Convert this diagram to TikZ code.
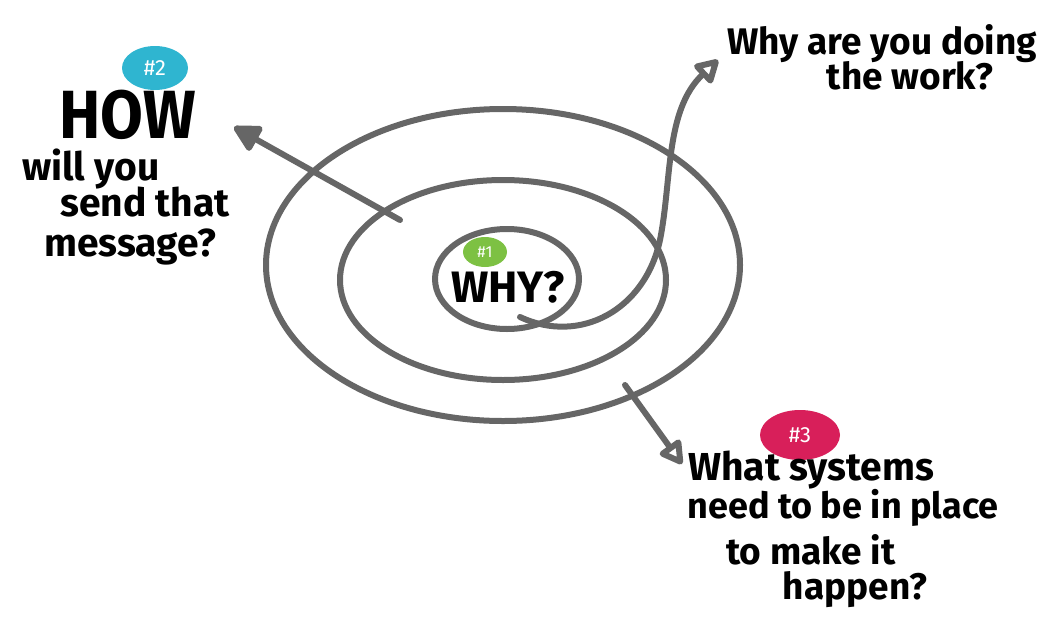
\documentclass[tikz,border=0pt]{standalone}
\usepackage{fontspec}
\setmainfont{Fira Sans}
\usetikzlibrary{arrows.meta,calc,shapes.geometric}
\definecolor{lineg}{HTML}{666666}
\definecolor{badgeblue}{HTML}{2FB5D0}
\definecolor{badgegreen}{HTML}{7DC143}
\definecolor{badgered}{HTML}{D81F5A}
\tikzset{
  ring/.style={draw=lineg,line width=6pt,line cap=round},
  arr/.style={draw=lineg,line width=6pt,line cap=round},
  headfill/.style={-{Triangle[length=30pt,width=30pt,round]}},
  headopen/.style={-{Triangle[open,length=26pt,width=28pt,round]}},
  badge/.style={ellipse,inner sep=0pt,text=white,font=\fontsize{22}{22}\selectfont},
  hand/.style={text=black,font=\bfseries\fontsize{#1}{#1}\selectfont,inner sep=0pt,align=center},
  hand/.default=34
}
\begin{document}
\begin{tikzpicture}[x=1pt,y=-1pt]
\useasboundingbox (0,0) rectangle (1054,621);
% rings
\draw[ring] (503,265) ellipse [x radius=237,y radius=156];
\draw[ring] (503,280) ellipse [x radius=163,y radius=100];
\draw[ring] (507,279) ellipse [x radius=72,y radius=50];
% coordinates
\coordinate (hs) at (400,220);
\coordinate (he) at (234,127);
\coordinate (ws) at (520,317);
\coordinate (we) at (718,60);
\coordinate (ss) at (625,385);
\coordinate (se) at (682,464);
% arrows
\draw[arr,headfill] (hs) -- (he);
\draw[arr,headopen] (ws) .. controls (580,345) and (645,310) .. (660,240) .. controls (672,180) and (665,110) .. (we);
\draw[arr,headopen] (ss) -- (se);
% badges
\node[badge,fill=badgeblue,minimum width=66pt,minimum height=44pt] (b2) at (155,68) {\#2};
\node[badge,fill=badgegreen,minimum width=44pt,minimum height=30pt,font=\fontsize{16}{16}\selectfont] (b1) at (485,252) {\#1};
\node[badge,fill=badgered,minimum width=80pt,minimum height=50pt] (b3) at (800,435) {\#3};
% texts
\node[hand=62,yscale=1.1] (how) at (128,115) {HOW};
\node[hand=39] (how1) at (91,169) {will you};
\node[hand=39] (how2) at (145,202) {send that};
\node[hand=39] (how3) at (130,247) {message?};
\node[hand=44] (why) at (508,287) {WHY?};
\node[hand=37] (wy1) at (882,44) {Why are you doing};
\node[hand=37] (wy2) at (910,76) {the work?};
\node[hand=39] (wt1) at (811,470) {What systems};
\node[hand=36] (wt2) at (843,508) {need to be in place};
\node[hand=37] (wt3) at (811,550) {to make it};
\node[hand=37] (wt4) at (855,590) {happen?};
\end{tikzpicture}
\end{document}
